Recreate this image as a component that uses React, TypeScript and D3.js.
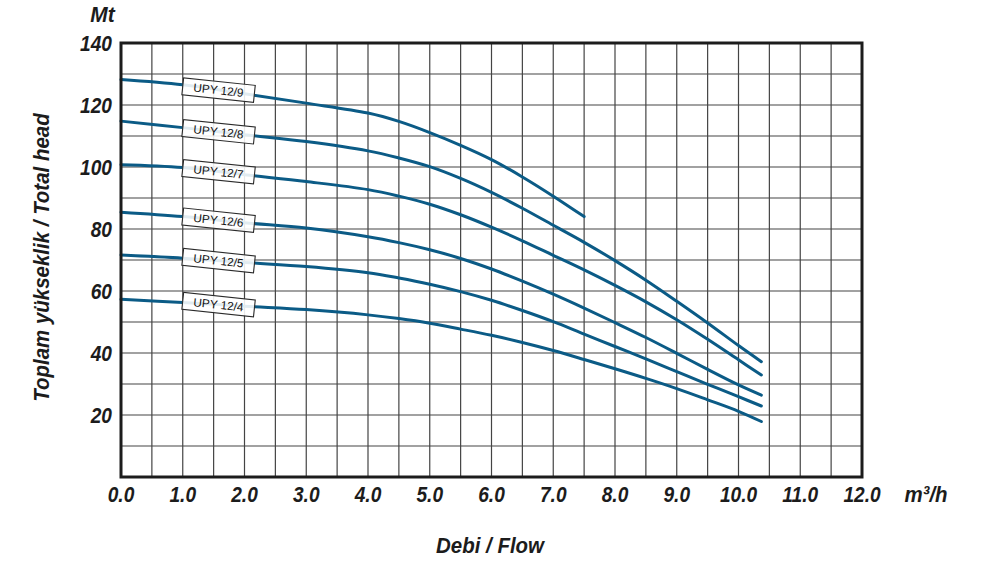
import * as d3 from "d3";

const flow = [0, 1, 2, 3, 4, 4.5, 5, 5.5, 6, 6.5, 7, 7.5, 8, 8.5, 9, 9.5, 10, 10.37];

// Total head (m) for each pump model
const upy129 = [128.2, 126.5, 123.6, 120.6, 117.4, 114.7, 111.1, 107, 102.4, 96.8, 90.6, 84];
const upy128 = [114.8, 112.7, 110.4, 108.2, 105.2, 102.9, 100.1, 96.3, 91.8, 86.7, 81.2, 75.7, 69.8, 63.5, 56.7, 49.7, 42.4, 37.2];
const upy127 = [100.7, 99.8, 97.5, 95.3, 92.7, 90.6, 88, 84.6, 80.6, 76.2, 71.5, 66.8, 61.8, 56.5, 50.7, 44.4, 37.8, 32.9];
const upy126 = [85.4, 84, 82, 80.3, 77.5, 75.6, 73.3, 70.5, 67.1, 63.2, 59, 54.5, 49.8, 45, 39.9, 34.7, 29.7, 26.4];
const upy125 = [71.6, 70.6, 69.2, 67.9, 65.9, 64.2, 62.2, 59.8, 57, 53.7, 50.1, 46.1, 42.1, 38.1, 34, 29.9, 25.9, 22.9];
const upy124 = [57.3, 56.3, 55.1, 54, 52.3, 51.1, 49.6, 47.7, 45.7, 43.4, 40.8, 37.9, 34.9, 31.8, 28.5, 24.9, 21.2, 17.9];

const seriesNames = ["UPY 12/9", "UPY 12/8", "UPY 12/7", "UPY 12/6", "UPY 12/5", "UPY 12/4"];
const seriesValues = [upy129, upy128, upy127, upy126, upy125, upy124];

const xTicks = [0, 1, 2, 3, 4, 5, 6, 7, 8, 9, 10, 11, 12];
const yTicks = [20, 40, 60, 80, 100, 120, 140];
const xGrid = d3.range(0.5, 12, 0.5);
const yGrid = d3.range(10, 140, 10);

const labelFlow = 1.58;

const FONT = "'Liberation Sans', Arial, sans-serif";
const CURVE = "#0b5b86";

const x = d3.scaleLinear().domain([0, 12]).range([121, 862]);
const y = d3.scaleLinear().domain([0, 140]).range([477, 43]);

const line = d3
  .line<[number, number]>()
  .x((d) => x(d[0]))
  .y((d) => y(d[1]))
  .curve(d3.curveCatmullRom.alpha(0.5));

const headAt = (vals: number[], q: number) => {
  const pts = flow.slice(0, vals.length);
  const i = d3.bisectRight(pts, q) - 1;
  const t = (q - pts[i]) / (pts[i + 1] - pts[i]);
  return vals[i] + t * (vals[i + 1] - vals[i]);
};

const axisText = {
  fontFamily: FONT,
  fontWeight: 700,
  fontStyle: "italic",
  fill: "#1c1c1c",
} as const;

export default function App() {
  return (
    <svg
      width={1004}
      height={565}
      style={{ position: "absolute", left: 0, top: 0, background: "#fff" }}
    >
      {/* grid */}
      <g stroke="#444" strokeWidth={1.2}>
        {xGrid.map((g) => (
          <line key={"gx" + g} x1={x(g)} x2={x(g)} y1={y(0)} y2={y(140)} />
        ))}
        {yGrid.map((g) => (
          <line key={"gy" + g} x1={x(0)} x2={x(12)} y1={y(g)} y2={y(g)} />
        ))}
      </g>

      {/* curves */}
      {seriesValues.map((vals, i) => (
        <path
          key={seriesNames[i]}
          d={line(vals.map((v, j) => [flow[j], v] as [number, number])) || ""}
          fill="none"
          stroke={CURVE}
          strokeWidth={3}
          strokeLinecap="round"
        />
      ))}

      {/* frame */}
      <rect
        x={x(0)}
        y={y(140)}
        width={x(12) - x(0)}
        height={y(0) - y(140)}
        fill="none"
        stroke="#1c1c1c"
        strokeWidth={3}
      />

      {/* curve labels */}
      {seriesValues.map((vals, i) => {
        const cx = x(labelFlow);
        const cy = y(headAt(vals, labelFlow));
        return (
          <g key={"lab" + i} transform={`translate(${cx},${cy}) rotate(6)`}>
            <rect
              x={-36}
              y={-8.5}
              width={72}
              height={17}
              fill="#fff"
              fillOpacity={0.88}
              stroke="#2a2a2a"
              strokeWidth={1.1}
            />
            <text
              textAnchor="middle"
              y={4.2}
              fontFamily={FONT}
              fontSize={11.8}
              fill="#111"
            >
              {seriesNames[i]}
            </text>
          </g>
        );
      })}

      {/* y ticks */}
      {yTicks.map((t) => (
        <text
          key={"yt" + t}
          transform={`translate(112,${y(t) + 7.5}) scale(0.87,1)`}
          textAnchor="end"
          fontSize={22}
          {...axisText}
        >
          {t}
        </text>
      ))}

      {/* x ticks */}
      {xTicks.map((t) => (
        <text
          key={"xt" + t}
          transform={`translate(${x(t)},502) scale(0.87,1)`}
          textAnchor="middle"
          fontSize={22}
          {...axisText}
        >
          {t.toFixed(1)}
        </text>
      ))}

      {/* units and titles */}
      <text transform="translate(102.5,21.5) scale(0.95,1)" textAnchor="middle" fontSize={22} {...axisText}>
        Mt
      </text>
      <text transform="translate(926,502) scale(0.93,1)" textAnchor="middle" fontSize={22} {...axisText}>
        m³/h
      </text>
      <text transform="translate(490,553) scale(0.93,1)" textAnchor="middle" fontSize={22} {...axisText}>
        Debi / Flow
      </text>
      <text
        transform="translate(49,257.5) rotate(-90) scale(0.93,1)"
        textAnchor="middle"
        fontSize={22}
        {...axisText}
      >
        Toplam yükseklik / Total head
      </text>
    </svg>
  );
}
